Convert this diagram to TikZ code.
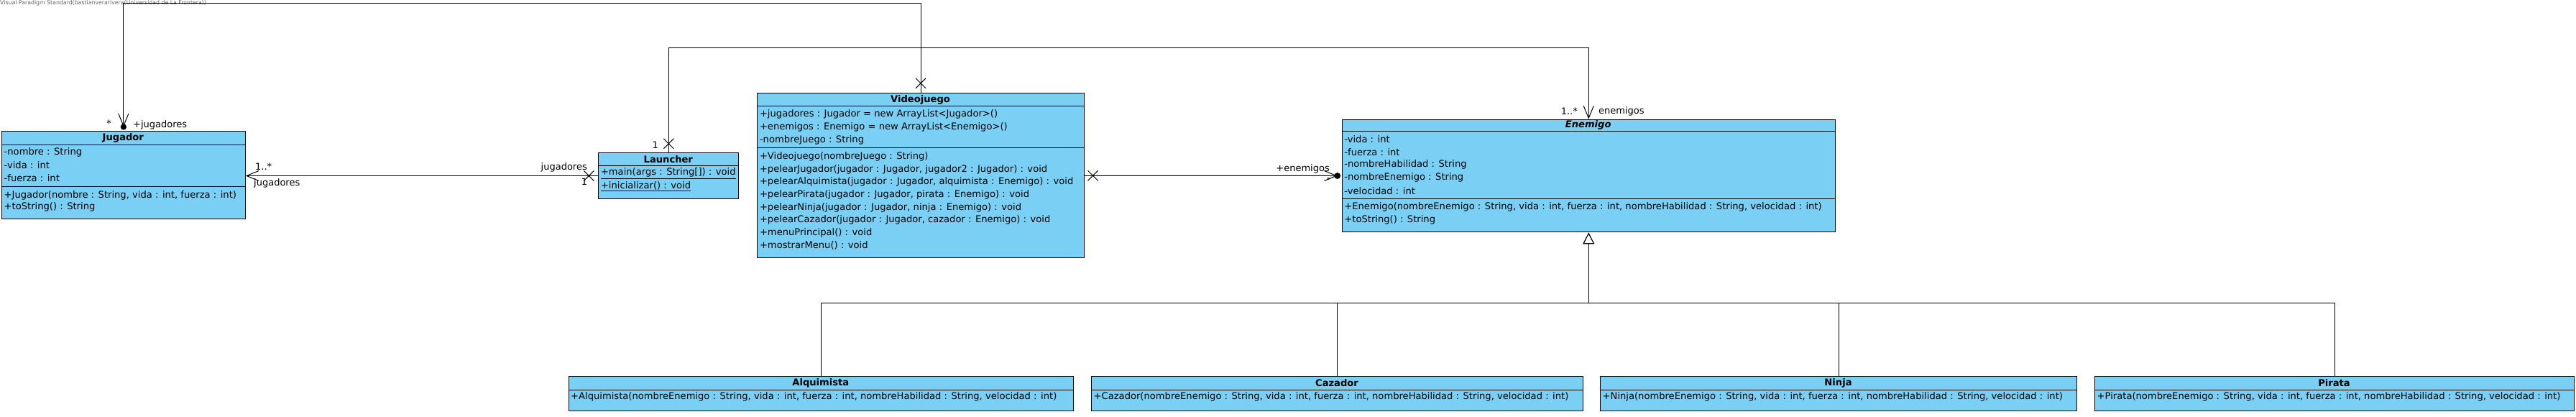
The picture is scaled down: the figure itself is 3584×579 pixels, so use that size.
\documentclass[tikz,border=0pt]{standalone}
\usepackage{fontspec}
\setmainfont{DejaVu Sans}
\usetikzlibrary{arrows.meta,calc}
\definecolor{vpblue}{RGB}{122,207,245}
\begin{document}
\begin{tikzpicture}[x=1pt,y=-1pt,
  classbox/.style={draw=black,fill=vpblue,line width=1pt,rectangle,inner sep=0pt,anchor=north west},
  txt/.style={anchor=west,inner sep=0pt,font=\fontsize{13.1}{14}\selectfont},
  ttl/.style={inner sep=0pt,font=\fontsize{13.1}{14}\selectfont\bfseries},
  lbl/.style={inner sep=0pt,font=\fontsize{13}{14}\selectfont},
  conn/.style={line width=1pt,draw=black},
  navtip/.style={-{Straight Barb[length=17pt,width=14pt,line width=1pt]}},
  gentip/.style={-{Triangle[length=16pt,width=16pt,fill=white,line width=1.2pt]}},
  xmark/.style={line width=1pt}]
\useasboundingbox (0,0) rectangle (3584,579);

% credit
\node[anchor=west,inner sep=0pt,text=black!60,font=\fontsize{7.8}{8}\selectfont] (credit) at (0,4.5) {Visual Paradigm Standard(bastianverarivera(Universidad de La Frontera))};

% ---------- Jugador ----------
\node[classbox,minimum width=338.7pt,minimum height=121.7pt] (jug) at (2,182.3) {};
\draw[line width=1pt] (2,201) -- (340.7,201);
\draw[line width=1pt] (2,259) -- (340.7,259);
\node[ttl] at (171.3,192) {Jugador};
\node[txt] at (5.5,212) {-nombre : String};
\node[txt] at (5.5,230) {-vida : int};
\node[txt] at (5.5,248) {-fuerza : int};
\node[txt] at (5.5,271.5) {+Jugador(nombre : String, vida : int, fuerza : int)};
\node[txt] at (5.5,288) {+toString() : String};

% ---------- Launcher ----------
\node[classbox,minimum width=195pt,minimum height=63.4pt] (lau) at (832.3,212.3) {};
\draw[line width=1pt] (832.3,230.7) -- (1027.3,230.7);
\node[ttl] at (929.8,221.3) {Launcher};
\node[txt] at (835.8,241) {\underline{+main(args : String[]) : void}};
\node[txt] at (835.8,259) {\underline{+inicializar() : void}};

% ---------- Videojuego ----------
\node[classbox,minimum width=454.4pt,minimum height=229pt] (vj) at (1053.3,129.3) {};
\draw[line width=1pt] (1053.3,147.7) -- (1507.7,147.7);
\draw[line width=1pt] (1053.3,205.7) -- (1507.7,205.7);
\node[ttl] at (1280.5,139) {Videojuego};
\node[txt] at (1056.8,159.3) {+jugadores : Jugador = new ArrayList<Jugador>()};
\node[txt] at (1056.8,177.3) {+enemigos : Enemigo = new ArrayList<Enemigo>()};
\node[txt] at (1056.8,194.8) {-nombreJuego : String};
\node[txt] at (1056.8,217.7) {+Videojuego(nombreJuego : String)};
\node[txt] at (1056.8,235.4) {+pelearJugador(jugador : Jugador, jugador2 : Jugador) : void};
\node[txt] at (1056.8,253.1) {+pelearAlquimista(jugador : Jugador, alquimista : Enemigo) : void};
\node[txt] at (1056.8,270.8) {+pelearPirata(jugador : Jugador, pirata : Enemigo) : void};
\node[txt] at (1056.8,288.5) {+pelearNinja(jugador : Jugador, ninja : Enemigo) : void};
\node[txt] at (1056.8,306.2) {+pelearCazador(jugador : Jugador, cazador : Enemigo) : void};
\node[txt] at (1056.8,323.9) {+menuPrincipal() : void};
\node[txt] at (1056.8,341.6) {+mostrarMenu() : void};

% ---------- Enemigo ----------
\node[classbox,minimum width=686.1pt,minimum height=156.6pt] (en) at (1866.7,165.7) {};
\draw[line width=1pt] (1866.7,182.3) -- (2552.8,182.3);
\draw[line width=1pt] (1866.7,276.3) -- (2552.8,276.3);
\node[ttl,font=\fontsize{13.1}{14}\selectfont\bfseries\itshape] at (2209.7,174.3) {Enemigo};
\node[txt] at (1870.2,193.3) {-vida : int};
\node[txt] at (1870.2,211.3) {-fuerza : int};
\node[txt] at (1870.2,229.3) {-nombreHabilidad : String};
\node[txt] at (1870.2,247.3) {-nombreEnemigo : String};
\node[txt] at (1870.2,265.3) {-velocidad : int};
\node[txt] at (1870.2,287.7) {+Enemigo(nombreEnemigo : String, vida : int, fuerza : int, nombreHabilidad : String, velocidad : int)};
\node[txt] at (1870.2,305.7) {+toString() : String};

% ---------- Subclasses ----------
\node[classbox,minimum width=702.5pt,minimum height=47.7pt] (alq) at (790.5,523.3) {};
\draw[line width=1pt] (790.5,542.3) -- (1493,542.3);
\node[ttl] at (1141.8,532.7) {Alquimista};
\node[txt] at (794,552.3) {+Alquimista(nombreEnemigo : String, vida : int, fuerza : int, nombreHabilidad : String, velocidad : int)};

\node[classbox,minimum width=684pt,minimum height=47.7pt] (caz) at (1518,523.3) {};
\draw[line width=1pt] (1518,542.3) -- (2202,542.3);
\node[ttl] at (1860,532.7) {Cazador};
\node[txt] at (1521.5,552.3) {+Cazador(nombreEnemigo : String, vida : int, fuerza : int, nombreHabilidad : String, velocidad : int)};

\node[classbox,minimum width=663pt,minimum height=47.7pt] (nin) at (2226,523.3) {};
\draw[line width=1pt] (2226,542.3) -- (2889,542.3);
\node[ttl] at (2557.5,532.7) {Ninja};
\node[txt] at (2229.5,552.3) {+Ninja(nombreEnemigo : String, vida : int, fuerza : int, nombreHabilidad : String, velocidad : int)};

\node[classbox,minimum width=667pt,minimum height=47.7pt] (pir) at (2914,523.3) {};
\draw[line width=1pt] (2914,542.3) -- (3581,542.3);
\node[ttl] at (3247.5,532.7) {Pirata};
\node[txt] at (2917.5,552.3) {+Pirata(nombreEnemigo : String, vida : int, fuerza : int, nombreHabilidad : String, velocidad : int)};

% ---------- Associations ----------
% Videojuego -> Jugador (top route)
\coordinate (top1) at (0,4.5);
\coordinate (jdot) at ($(jug.north)+(0,-5.8)$);
\draw[conn,navtip] (vj.north) -- (vj.north |- top1) -| (jdot);
\fill (jdot) circle (4.2pt);
\draw[xmark] ($(vj.north)+(0,-13.5)$) +(-7,-7) -- +(7,7) +(-7,7) -- +(7,-7);
\node[lbl] at (151.7,172) {*};
\node[lbl,anchor=west] at (185,174) {+jugadores};

% Launcher -> Enemigo (second route)
\coordinate (top2) at (0,66);
\draw[conn,navtip] (lau.north) -- (lau.north |- top2) -| (en.north);
\draw[xmark] ($(lau.north)+(0,-12.5)$) +(-7,-7) -- +(7,7) +(-7,7) -- +(7,-7);
\node[lbl] at (911.7,201.7) {1};
\node[lbl,anchor=east] at (2195,155) {1..*};
\node[lbl,anchor=west] at (2224,155) {enemigos};

% Launcher -> Jugador
\draw[conn,navtip] (lau.west) -- (lau.west -| jug.east);
\draw[xmark] ($(lau.west)+(-13,0)$) +(-7,-7) -- +(7,7) +(-7,7) -- +(7,-7);
\node[lbl,anchor=west] at (355,232) {1..*};
\node[lbl,anchor=west] at (353,255) {jugadores};
\node[lbl,anchor=east] at (817,233) {jugadores};
\node[lbl] at (813,253) {1};

% Videojuego -> Enemigo
\coordinate (edot) at ($(en.west)+(-6,0)$);
\draw[conn,navtip] (vj.east) -- (edot);
\fill (edot) circle (4.4pt);
\draw[xmark] ($(vj.east)+(11.8,0)$) +(-7,-7) -- +(7,7) +(-7,7) -- +(7,-7);
\node[lbl,anchor=east] at (1850,235) {+enemigos};
\node[lbl,font=\fontsize{9}{10}\selectfont] at (1848,250) {*};

% ---------- Generalization ----------
\coordinate (gbus) at (en.south |- 0,421.7);
\draw[conn,gentip] (gbus) -- (en.south);
\draw[conn] (alq.north) |- (gbus);
\draw[conn] (caz.north) |- (gbus);
\draw[conn] (nin.north) |- (gbus);
\draw[conn] (pir.north) |- (gbus);
\end{tikzpicture}
\end{document}
